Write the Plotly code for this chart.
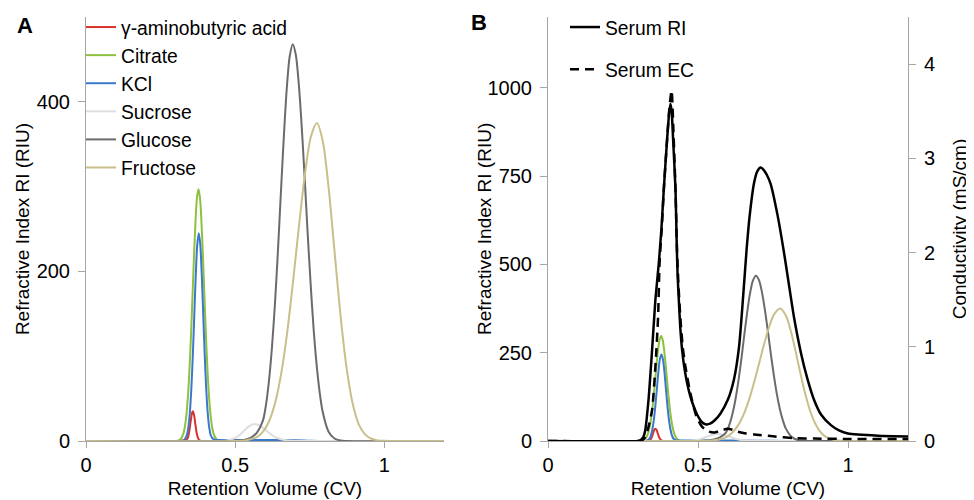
import plotly.graph_objects as go

# ---------------- data ----------------
gaba_x = [0, 0.30, 0.33, 0.34, 0.345, 0.35, 0.355, 0.358, 0.362, 0.367, 0.372, 0.378, 0.385, 0.40, 1.2]
gaba_y = [0, 0, 0.8, 2.8, 9.3, 21, 32.6, 35, 30.9, 18.6, 7.6, 1.5, 0.1, 0, 0]

citrate_x = [0, 0.29, 0.307, 0.317, 0.327, 0.332, 0.337, 0.342, 0.347, 0.352, 0.357, 0.362, 0.367, 0.372,
             0.377, 0.382, 0.387, 0.392, 0.397, 0.402, 0.407, 0.412, 0.417, 0.422, 0.427, 0.437, 0.447, 0.47, 1.2]
citrate_y = [0, 0, 0.3, 2.0, 9.3, 18, 32.4, 54.4, 85.3, 125, 170.7, 217.5, 258.6, 286.9,
             297, 286.9, 258.6, 217.5, 170.7, 125, 85.3, 54.4, 32.4, 18, 9.3, 2.0, 0.3, 0, 0]

kcl_x = [0, 0.30, 0.328, 0.338, 0.343, 0.348, 0.353, 0.358, 0.363, 0.368, 0.373, 0.378, 0.383, 0.388,
         0.393, 0.398, 0.403, 0.408, 0.413, 0.418, 0.428, 0.44, 0.50, 0.60, 0.70, 0.75, 0.80, 1.2]
kcl_y = [0, 0, 0.9, 7.0, 16.1, 33.2, 61.1, 100.7, 148.6, 196.2, 231.8, 245, 231.8, 196.2,
         148.6, 100.7, 61.1, 33.2, 16.1, 7.0, 1.8, 1.3, 1.2, 1.2, 1.0, 0.4, 0, 0]

sucrose_x = [0, 0.40, 0.465, 0.485, 0.505, 0.525, 0.545, 0.565, 0.585, 0.605, 0.625, 0.645, 0.665, 0.69, 0.72, 1.2]
sucrose_y = [0, 0, 0.3, 1.5, 4.6, 10.4, 17, 20, 17.5, 12, 6.5, 3, 1.2, 0.3, 0, 0]

glucose_x = [0, 0.45, 0.50, 0.533, 0.553, 0.573, 0.593, 0.603, 0.613, 0.623, 0.633, 0.643, 0.653, 0.663,
             0.673, 0.683, 0.693, 0.703, 0.713, 0.723, 0.733, 0.743, 0.753, 0.763, 0.773, 0.783,
             0.793, 0.813, 0.833, 0.853, 0.873, 1.2]
glucose_y = [0, 0, 0.3, 1.5, 4, 10, 24, 42, 70, 109, 160, 222, 291, 358,
             416, 454, 468, 456, 422, 371, 310, 245, 185, 132, 90, 58,
             35, 11, 3, 0.6, 0.1, 0]

fructose_x = [0, 0.50, 0.534, 0.574, 0.594, 0.614, 0.634, 0.654, 0.674, 0.694, 0.714, 0.734, 0.754,
              0.774, 0.794, 0.814, 0.834, 0.854, 0.874, 0.894, 0.914, 0.934, 0.954, 0.974, 1.0, 1.2]
fructose_y = [0, 0, 0.7, 5, 11.3, 23.6, 45, 79, 127, 188, 254, 315, 359,
              375, 353, 296, 220, 145, 85, 44, 20, 8.4, 3, 1, 0.2, 0]

serum_ri_x = [0, 0.30, 0.308, 0.318, 0.324, 0.335, 0.347, 0.358, 0.369, 0.378, 0.386, 0.397, 0.404, 0.408,
              0.412, 0.417, 0.425, 0.429, 0.432, 0.436, 0.441, 0.447, 0.455, 0.464, 0.475, 0.486, 0.497,
              0.508, 0.518, 0.528, 0.54, 0.555, 0.575, 0.60, 0.62, 0.637, 0.651, 0.662, 0.672, 0.687,
              0.698, 0.709, 0.72, 0.73, 0.742, 0.765, 0.785, 0.80, 0.82, 0.843, 0.865, 0.887, 0.91, 0.943,
              0.97, 1.0, 1.1, 1.2]
serum_ri_y = [0, 0, 2, 12, 30, 116, 258, 400, 500, 600, 712, 854, 930, 954,
              935, 854, 712, 560, 470, 400, 320, 258, 205, 163, 125, 97, 75,
              59, 50, 47, 49, 58, 78, 118, 175, 268, 415, 542, 636, 731,
              764, 774, 766, 752, 728, 640, 542, 460, 350, 250, 175, 116, 75, 45,
              30, 21, 15, 13]

serum_ec_x = [0, 0.30, 0.315, 0.324, 0.335, 0.347, 0.358, 0.367, 0.372, 0.38, 0.386, 0.397, 0.405, 0.412,
              0.418, 0.425, 0.43, 0.435, 0.441, 0.449, 0.458, 0.475, 0.495, 0.514, 0.536, 0.555, 0.575,
              0.598, 0.615, 0.632, 0.66, 0.687, 0.75, 0.82, 0.887, 1.0, 1.2]
serum_ec_y = [0, 0, 0.01, 0.04, 0.15, 0.33, 0.79, 1.32, 1.9, 2.3, 2.67, 3.2, 3.55, 3.72,
              3.3, 2.67, 2.03, 1.65, 1.32, 1.0, 0.79, 0.50, 0.26, 0.15, 0.10, 0.09, 0.11,
              0.13, 0.12, 0.10, 0.08, 0.07, 0.05, 0.03, 0.026, 0.022, 0.02]

x_ticks = [0, 0.5, 1]
x_ticktext = ["0", "0.5", "1"]
ya_ticks = [0, 200, 400]
yb_ticks = [0, 250, 500, 750, 1000]
yc_ticks = [0, 1, 2, 3, 4]

components = [
    ("γ-aminobutyric acid", gaba_x, gaba_y, "#d8322c"),
    ("Citrate", citrate_x, citrate_y, "#8dc13f"),
    ("KCl", kcl_x, kcl_y, "#3b78cc"),
    ("Sucrose", sucrose_x, sucrose_y, "#dedede"),
    ("Glucose", glucose_x, glucose_y, "#6b6b6b"),
    ("Fructose", fructose_x, fructose_y, "#c9bf8a"),
]

FONT = "Liberation Sans, Arial, Helvetica, sans-serif"
AXC = "#a6a6a6"

# page has an 8px body margin: size the figure so it fills the window exactly
OFF = 8
W, H = 974 - OFF, 500 - OFF


def fx(px):
    return (px - OFF) / W


def fy(py):
    return 1 - (py - OFF) / H


fig = go.Figure()

# Panel A
for name, xs, ys, col in components:
    fig.add_trace(go.Scatter(
        x=xs, y=ys, name=name, mode="lines",
        line=dict(color=col, width=2, shape="spline", smoothing=0.8),
        xaxis="x", yaxis="y", legend="legend",
    ))

# Panel B components
for name, xs, ys, col in components:
    fig.add_trace(go.Scatter(
        x=xs, y=ys, name=name, mode="lines", showlegend=False,
        line=dict(color=col, width=2, shape="spline", smoothing=0.8),
        xaxis="x2", yaxis="y2",
    ))

fig.add_trace(go.Scatter(
    x=serum_ri_x, y=serum_ri_y, name="Serum RI", mode="lines",
    line=dict(color="black", width=2.5, shape="spline", smoothing=0.6),
    xaxis="x2", yaxis="y2", legend="legend2", legendgroup="ri",
))
fig.add_trace(go.Scatter(
    x=serum_ec_x, y=serum_ec_y, name="Serum EC", mode="lines",
    line=dict(color="black", width=2.5, dash="9px,6px", shape="spline", smoothing=0.6),
    xaxis="x2", yaxis="y3", legend="legend2", legendgroup="ec",
))

ydom = [fy(441), fy(17)]

axis_common = dict(
    showline=True, linecolor=AXC, linewidth=1, ticks="outside",
    tickcolor=AXC, tickwidth=1, showgrid=False, zeroline=False, automargin=False,
    tickfont=dict(size=20, color="black", family=FONT),
)
TF = dict(size=19, family=FONT, color="black")

fig.update_layout(
    template="none",
    width=W, height=H,
    margin=dict(l=0, r=0, t=0, b=0),
    paper_bgcolor="white", plot_bgcolor="white",
    font=dict(family=FONT, size=19, color="black"),
    xaxis=dict(domain=[fx(86), fx(444)], range=[0, 1.2], anchor="y",
               tickvals=x_ticks, ticktext=x_ticktext, ticklen=6,
               title=dict(text="Retention Volume (CV)", standoff=6, font=TF),
               **axis_common),
    yaxis=dict(domain=ydom, range=[0, 500], anchor="x", tickvals=ya_ticks, ticklen=7,
               ticklabelstandoff=4,
               title=dict(text="Refractive Index RI (RIU)", standoff=1, font=TF),
               **axis_common),
    xaxis2=dict(domain=[fx(548), fx(908)], range=[0, 1.2], anchor="y2",
                tickvals=x_ticks, ticktext=x_ticktext, ticklen=6,
                title=dict(text="Retention Volume (CV)", standoff=6, font=TF),
                **axis_common),
    yaxis2=dict(domain=ydom, range=[0, 1200], anchor="x2", tickvals=yb_ticks, ticklen=7,
                ticklabelstandoff=4,
                **axis_common),
    yaxis3=dict(domain=ydom, range=[0, 4.5], anchor="x2", overlaying="y2", side="right",
                tickvals=yc_ticks, ticklen=7, ticklabelstandoff=4,
                title=dict(text="Conductivity (mS/cm)", standoff=18, font=TF),
                **axis_common),
    legend=dict(x=fx(81), y=1, xanchor="left", yanchor="top",
                bgcolor="rgba(0,0,0,0)", borderwidth=0,
                font=dict(size=19.3, family=FONT, color="black")),
    legend2=dict(x=fx(565), y=1, xanchor="left", yanchor="top",
                 bgcolor="rgba(0,0,0,0)", borderwidth=0, tracegroupgap=14,
                 font=dict(size=19.3, family=FONT, color="black"), traceorder="grouped"),
    annotations=[
        dict(text="<b>A</b>", x=fx(24.5), y=fy(11), xref="paper", yref="paper",
             xanchor="center", yanchor="top",
             showarrow=False, font=dict(size=22, family=FONT, color="black")),
        dict(text="<b>B</b>", x=fx(478.5), y=fy(8.5), xref="paper", yref="paper",
             xanchor="center", yanchor="top",
             showarrow=False, font=dict(size=22, family=FONT, color="black")),
        # title of panel B's left axis, sitting tight against its tick labels
        dict(text="Refractive Index RI (RIU)", x=fx(484), y=fy(229), xref="paper", yref="paper",
             xanchor="center", yanchor="middle", textangle=-90,
             showarrow=False, font=TF),
    ],
)

fig.write_html("out.html")
